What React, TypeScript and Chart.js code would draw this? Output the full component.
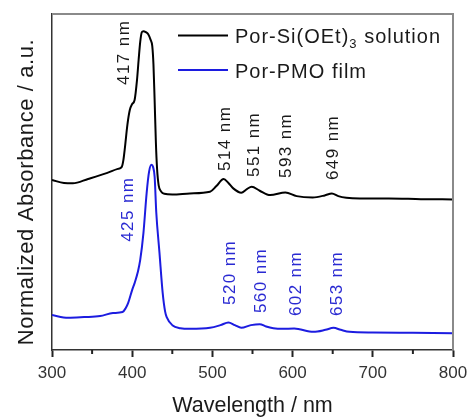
import React, { useEffect, useRef } from "react";
import { Chart, registerables } from "chart.js";

Chart.register(...registerables);

// Por-Si(OEt)3 solution (black)
const solWavelength = [300, 315, 326, 345, 369, 382, 387, 389, 391, 394, 397, 400, 403, 406, 408, 410, 412, 414, 417, 420, 423, 425, 426.5, 428, 429.5, 431, 433, 436, 440, 450, 472, 497, 505, 514, 520, 526, 536, 543, 549, 559, 572, 591, 605, 625, 640, 649, 657, 667, 684, 720, 760, 800];
const solAbsorbance = [0.506, 0.497, 0.496, 0.509, 0.527, 0.539, 0.545, 0.565, 0.604, 0.670, 0.714, 0.732, 0.744, 0.804, 0.863, 0.917, 0.946, 0.949, 0.946, 0.940, 0.923, 0.905, 0.850, 0.740, 0.620, 0.540, 0.490, 0.472, 0.465, 0.463, 0.466, 0.471, 0.488, 0.509, 0.497, 0.481, 0.468, 0.479, 0.486, 0.474, 0.461, 0.469, 0.458, 0.454, 0.460, 0.466, 0.458, 0.453, 0.451, 0.451, 0.449, 0.448];

// Por-PMO film (blue)
const filmWavelength = [300, 320, 340, 360, 376, 388, 392, 395, 400, 403, 407, 410, 414, 418, 421, 424, 426, 428, 430, 434, 438, 441, 443, 450, 460, 472, 497, 510, 520, 528, 536, 548, 559, 567, 576, 587, 602, 626, 641, 651, 660, 671, 700, 750, 800];
const filmAbsorbance = [0.104, 0.096, 0.098, 0.101, 0.110, 0.113, 0.125, 0.140, 0.179, 0.199, 0.232, 0.268, 0.348, 0.467, 0.530, 0.551, 0.545, 0.515, 0.410, 0.290, 0.170, 0.115, 0.098, 0.074, 0.065, 0.063, 0.066, 0.074, 0.082, 0.074, 0.066, 0.074, 0.077, 0.070, 0.065, 0.063, 0.064, 0.054, 0.060, 0.066, 0.060, 0.054, 0.052, 0.051, 0.050];

// Peak annotations (text, anchor wavelength, anchor absorbance)
const solPeakText = ["417 nm", "514 nm", "551 nm", "593 nm", "649 nm"];
const solPeakX = [389, 514, 551, 591, 649];
const solPeakY = [0.789, 0.533, 0.515, 0.512, 0.506];
const filmPeakText = ["425 nm", "520 nm", "560 nm", "602 nm", "653 nm"];
const filmPeakX = [394, 521, 559, 603, 654];
const filmPeakY = [0.322, 0.134, 0.110, 0.101, 0.101];

const xMajorTicks = [300, 400, 500, 600, 700, 800];
const xMinorTicks = [350, 450, 550, 650, 750];

const legendNames = ["Por-Si(OEt)", "Por-PMO film"];
const xTitle = "Wavelength / nm";
const yTitle = "Normalized Absorbance / a.u.";

const FONT = "'Liberation Sans', Arial, sans-serif";
const BLACK = "#000000";
const BLUE = "#1c1ce0";
const BLUE_TEXT = "#2a2ad2";

const overlay = {
  id: "overlay",
  afterDraw(chart: any) {
    const ctx = chart.ctx as CanvasRenderingContext2D;
    const { left, right, top, bottom } = chart.chartArea;
    const xs = chart.scales.x;
    const ys = chart.scales.y;
    ctx.save();
    // top/right frame
    ctx.strokeStyle = "#8a8a8a";
    ctx.lineWidth = 2;
    ctx.beginPath();
    ctx.moveTo(left, top);
    ctx.lineTo(right, top);
    ctx.lineTo(right, bottom);
    ctx.stroke();
    // minor ticks
    ctx.strokeStyle = "#222";
    ctx.lineWidth = 2;
    for (const v of xMinorTicks) {
      const px = xs.getPixelForValue(v);
      ctx.beginPath();
      ctx.moveTo(px, bottom);
      ctx.lineTo(px, bottom + 4);
      ctx.stroke();
    }
    // peak labels
    const drawLabels = (texts: string[], xsv: number[], ysv: number[], color: string) => {
      ctx.fillStyle = color;
      ctx.font = `17px ${FONT}`;
      (ctx as any).letterSpacing = "1.4px";
      ctx.textAlign = "left";
      ctx.textBaseline = "alphabetic";
      texts.forEach((t, i) => {
        const px = xs.getPixelForValue(xsv[i]);
        const py = ys.getPixelForValue(ysv[i]);
        ctx.save();
        ctx.translate(px + 6, py);
        ctx.rotate(-Math.PI / 2);
        ctx.fillText(t, 0, 0);
        ctx.restore();
      });
    };
    drawLabels(solPeakText, solPeakX, solPeakY, "#1a1a1a");
    drawLabels(filmPeakText, filmPeakX, filmPeakY, BLUE_TEXT);

    // legend
    (ctx as any).letterSpacing = "1px";
    ctx.lineWidth = 2;
    ctx.strokeStyle = BLACK;
    ctx.beginPath();
    ctx.moveTo(178, 35.5);
    ctx.lineTo(228, 35.5);
    ctx.stroke();
    ctx.strokeStyle = BLUE;
    ctx.beginPath();
    ctx.moveTo(178, 70);
    ctx.lineTo(228, 70);
    ctx.stroke();
    ctx.fillStyle = "#1a1a1a";
    ctx.textAlign = "left";
    ctx.textBaseline = "alphabetic";
    ctx.font = `20px ${FONT}`;
    ctx.fillText(legendNames[0], 235, 43);
    const w = ctx.measureText(legendNames[0]).width;
    ctx.font = `13px ${FONT}`;
    ctx.fillText("3", 235 + w, 48);
    const w3 = ctx.measureText("3").width;
    ctx.font = `20px ${FONT}`;
    ctx.fillText(" solution", 235 + w + w3, 43);
    ctx.fillText(legendNames[1], 235, 77.5);

    // axis titles
    ctx.fillStyle = "#1a1a1a";
    ctx.font = `21.5px ${FONT}`;
    (ctx as any).letterSpacing = "0px";
    ctx.textAlign = "center";
    ctx.fillText(xTitle, (left + right) / 2, 412);
    ctx.save();
    ctx.translate(33, 192);
    ctx.rotate(-Math.PI / 2);
    ctx.font = `22px ${FONT}`;
    (ctx as any).letterSpacing = "0.6px";
    ctx.fillText(yTitle, 0, 0);
    ctx.restore();
    ctx.restore();
  },
};

export default function App() {
  const ref = useRef<HTMLCanvasElement | null>(null);
  useEffect(() => {
    if (!ref.current) return;
    const chart = new Chart(ref.current, {
      type: "line",
      data: {
        datasets: [
          {
            label: "Por-Si(OEt)3 solution",
            data: solWavelength.map((x, i) => ({ x, y: solAbsorbance[i] })),
            borderColor: BLACK,
            borderWidth: 2,
            pointRadius: 0,
            cubicInterpolationMode: "monotone",
          },
          {
            label: "Por-PMO film",
            data: filmWavelength.map((x, i) => ({ x, y: filmAbsorbance[i] })),
            borderColor: BLUE,
            borderWidth: 2,
            pointRadius: 0,
            cubicInterpolationMode: "monotone",
          },
        ],
      },
      options: {
        responsive: false,
        animation: false,
        layout: { padding: { top: 14, right: 16, left: 0, bottom: 0 } },
        plugins: { legend: { display: false }, tooltip: { enabled: false } },
        scales: {
          x: {
            type: "linear",
            min: 300,
            max: 800,
            afterBuildTicks: (s: any) => {
              s.ticks = xMajorTicks.map((v) => ({ value: v }));
            },
            afterFit: (s: any) => {
              s.height = 68;
              s.paddingLeft = 0;
              s.paddingRight = 0;
            },
            ticks: {
              font: { family: FONT, size: 17 },
              color: "#333",
              padding: 6,
              maxRotation: 0,
            },
            grid: {
              display: true,
              drawOnChartArea: false,
              drawTicks: true,
              tickLength: 7,
              tickColor: "#222",
              tickWidth: 2,
            },
            border: { display: true, color: "#333", width: 1.5 },
          },
          y: {
            type: "linear",
            min: 0,
            max: 1,
            afterFit: (s: any) => {
              s.width = 52;
            },
            ticks: { display: false },
            grid: { display: false },
            border: { display: true, color: "#333", width: 1.5 },
          },
        },
      },
      plugins: [overlay],
    });
    return () => chart.destroy();
  }, []);
  return (
    <div style={{ position: "absolute", left: 0, top: 0, width: 469, height: 418, background: "#fff" }}>
      <canvas ref={ref} width={469} height={418} />
    </div>
  );
}
